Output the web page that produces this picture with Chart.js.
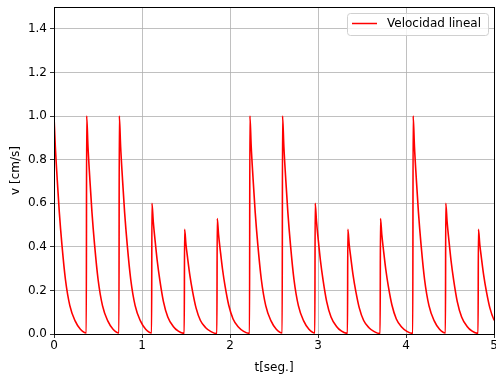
<!DOCTYPE html>
<html>
<head>
<meta charset="utf-8">
<script src="https://cdn.jsdelivr.net/npm/chart.js@4.4.0/dist/chart.umd.min.js"></script>
<style>
  html, body { margin: 0; padding: 0; background: #fff; }
  canvas { display: block; }
</style>
</head>
<body>
<canvas id="chart" width="496" height="379"></canvas>
<script>
// start time of each pulse [s]
const inicios = [0, 0.371, 0.742, 1.113, 1.484, 1.855, 2.226, 2.597, 2.968, 3.339, 3.71, 4.081, 4.452, 4.823];
// time offsets of the samples inside one pulse [s]
const desfase = [0, 0.015, 0.035, 0.06, 0.09, 0.13, 0.18, 0.24, 0.30, 0.367];
// velocity samples, one row per pulse [cm/s]
const velocidad = [
  [1.00, 0.86, 0.72, 0.56, 0.41, 0.25, 0.13, 0.06, 0.022, 0.005],
  [1.00, 0.86, 0.72, 0.56, 0.41, 0.25, 0.13, 0.06, 0.022, 0.005],
  [1.00, 0.86, 0.72, 0.56, 0.41, 0.25, 0.13, 0.06, 0.022, 0.005],
  [0.60, 0.516, 0.432, 0.336, 0.246, 0.15, 0.078, 0.036, 0.013, 0.003],
  [0.48, 0.413, 0.346, 0.269, 0.197, 0.12, 0.062, 0.029, 0.011, 0.002],
  [0.53, 0.456, 0.382, 0.297, 0.217, 0.133, 0.069, 0.032, 0.012, 0.003],
  [1.00, 0.86, 0.72, 0.56, 0.41, 0.25, 0.13, 0.06, 0.022, 0.005],
  [1.00, 0.86, 0.72, 0.56, 0.41, 0.25, 0.13, 0.06, 0.022, 0.005],
  [0.60, 0.516, 0.432, 0.336, 0.246, 0.15, 0.078, 0.036, 0.013, 0.003],
  [0.48, 0.413, 0.346, 0.269, 0.197, 0.12, 0.062, 0.029, 0.011, 0.002],
  [0.53, 0.456, 0.382, 0.297, 0.217, 0.133, 0.069, 0.032, 0.012, 0.003],
  [1.00, 0.86, 0.72, 0.56, 0.41, 0.25, 0.13, 0.06, 0.022, 0.005],
  [0.60, 0.516, 0.432, 0.336, 0.246, 0.15, 0.078, 0.036, 0.013, 0.003],
  [0.48, 0.413, 0.346, 0.269, 0.197, 0.12, 0.062, 0.029, 0.011, 0.002]
];
const yTicks = [0, 0.2, 0.4, 0.6, 0.8, 1.0, 1.2, 1.4];
const xTicks = [0, 1, 2, 3, 4, 5];
const serieLabel = 'Velocidad lineal';

const points = [];
inicios.forEach((t0, i) => {
  velocidad[i].forEach((v, j) => points.push({ x: t0 + desfase[j], y: v }));
});

const FONT = '"DejaVu Sans", sans-serif';

// black frame round the plot + legend box in the upper right
const framePlugin = {
  id: 'frame',
  afterDraw(chart) {
    const { ctx, chartArea: a } = chart;
    ctx.save();
    ctx.strokeStyle = '#000';
    ctx.lineWidth = 1;
    ctx.strokeRect(Math.round(a.left) + 0.5, Math.round(a.top) + 0.5,
      Math.round(a.right - a.left), Math.round(a.bottom - a.top));

    // legend
    const bx = 347.5, by = 13.5, bw = 141, bh = 22, r = 3;
    ctx.beginPath();
    ctx.moveTo(bx + r, by);
    ctx.arcTo(bx + bw, by, bx + bw, by + bh, r);
    ctx.arcTo(bx + bw, by + bh, bx, by + bh, r);
    ctx.arcTo(bx, by + bh, bx, by, r);
    ctx.arcTo(bx, by, bx + bw, by, r);
    ctx.closePath();
    ctx.fillStyle = 'rgba(255,255,255,0.8)';
    ctx.fill();
    ctx.strokeStyle = '#d0d0d0';
    ctx.stroke();
    ctx.beginPath();
    ctx.moveTo(352, 23.5);
    ctx.lineTo(377, 23.5);
    ctx.strokeStyle = 'red';
    ctx.lineWidth = 1.5;
    ctx.stroke();
    ctx.fillStyle = '#000';
    ctx.font = '12px ' + FONT;
    ctx.textBaseline = 'middle';
    ctx.fillText(serieLabel, 387, 24);
    ctx.restore();
  }
};

new Chart(document.getElementById('chart'), {
  type: 'scatter',
  data: {
    datasets: [{
      label: serieLabel,
      data: points,
      showLine: true,
      borderColor: 'red',
      borderWidth: 1.6,
      pointRadius: 0,
      cubicInterpolationMode: 'monotone'
    }]
  },
  options: {
    responsive: false,
    animation: false,
    layout: { padding: { top: 7, right: 2, left: 5, bottom: 0 } },
    plugins: { legend: { display: false }, tooltip: { enabled: false } },
    scales: {
      x: {
        type: 'linear',
        min: 0,
        max: 5,
        afterBuildTicks: s => { s.ticks = xTicks.map(v => ({ value: v })); },
        afterFit: s => { s.height = 45; s.paddingLeft = 0; s.paddingRight = 0; },
        ticks: { color: '#000', font: { family: FONT, size: 12 }, padding: 1, maxRotation: 0,
          callback: v => String(v) },
        grid: { color: '#b0b0b0', lineWidth: 0.8, tickColor: '#000', tickLength: 4 },
        border: { display: false },
        title: { display: true, text: 't[seg.]', color: '#000', font: { family: FONT, size: 12 }, padding: { top: 2 } }
      },
      y: {
        type: 'linear',
        min: 0,
        max: 1.5,
        afterBuildTicks: s => { s.ticks = yTicks.map(v => ({ value: v })); },
        afterFit: s => { s.width = 49; s.paddingTop = 0; s.paddingBottom = 0; },
        ticks: { color: '#000', font: { family: FONT, size: 12 }, padding: 3,
          callback: v => v.toFixed(1) },
        grid: { color: '#b0b0b0', lineWidth: 0.8, tickColor: '#000', tickLength: 4 },
        border: { display: false },
        title: { display: true, text: 'v [cm/s]', color: '#000', font: { family: FONT, size: 12 }, padding: { bottom: 2 } }
      }
    }
  },
  plugins: [framePlugin]
});
</script>
</body>
</html>
